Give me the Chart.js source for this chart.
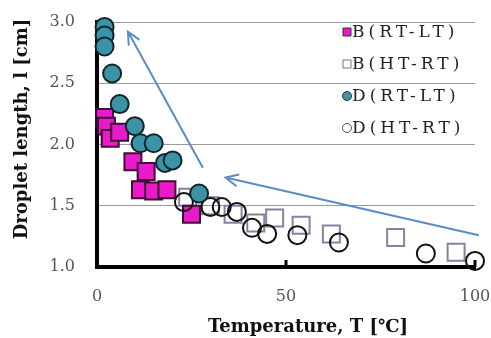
<!DOCTYPE html>
<html>
<head>
<meta charset="utf-8">
<script src="https://cdn.jsdelivr.net/npm/chart.js@4"></script>
<style>
  html, body { margin: 0; padding: 0; background: #fff; }
  #wrap { width: 491px; height: 338px; }
</style>
</head>
<body>
<div id="wrap"><canvas id="chart"></canvas></div>
<script>
// data: [temperature T, droplet length l]
const bRtLt = [[2, 2.22], [2.5, 2.15], [3.5, 2.05], [6, 2.10], [9.5, 1.86], [13, 1.78],
               [11.5, 1.63], [15, 1.62], [18.5, 1.63], [25, 1.43]];
const bHtRt = [[24, 1.57], [30, 1.50], [36, 1.43], [42, 1.36], [47, 1.40], [54, 1.34],
               [62, 1.27], [79, 1.24], [95, 1.12]];
const dRtLt = [[2, 2.96], [2, 2.89], [2, 2.80], [4, 2.58], [6, 2.33], [10, 2.15],
               [11.5, 2.01], [15, 2.01], [18, 1.85], [20, 1.87], [27, 1.60]];
const dHtRt = [[23, 1.53], [30, 1.49], [33, 1.49], [37, 1.45], [41, 1.32], [45, 1.27],
               [53, 1.26], [64, 1.20], [87, 1.11], [100, 1.05]];
const seriesNames = ['B(RT-LT)', 'B(HT-RT)', 'D(RT-LT)', 'D(HT-RT)'];
const xTicks = [0, 50, 100];
const yTicks = [1.0, 1.5, 2.0, 2.5, 3.0];
// arrows: [fromT, fromL, toT, toL]
const arrows = [[28, 1.81, 8.2, 2.92], [101, 1.26, 34, 1.73]];

function pts(arr) {
  return arr.map(p => ({ x: p[0], y: p[1] }));
}

// keep the plot box fixed: no extra room for overhanging tick labels
function noPad(s) {
  s.paddingLeft = 0; s.paddingRight = 0;
  s.paddingTop = 0; s.paddingBottom = 0;
}

// draws legend, arrows, x tick marks and axis titles
const extras = {
  id: 'extras',
  afterDatasetsDraw(chart) {
    const ctx = chart.ctx;
    const xs = chart.scales.x, ys = chart.scales.y;
    ctx.save();

    // small inward tick marks on x axis
    ctx.strokeStyle = '#000';
    ctx.lineWidth = 3;
    xTicks.forEach(v => {
      const px = xs.getPixelForValue(v);
      ctx.beginPath();
      ctx.moveTo(px, ys.bottom);
      ctx.lineTo(px, ys.bottom - 7);
      ctx.stroke();
    });

    // arrows
    ctx.strokeStyle = '#5b8cc4';
    ctx.lineWidth = 2;
    arrows.forEach(a => {
      const x1 = xs.getPixelForValue(a[0]), y1 = ys.getPixelForValue(a[1]);
      const x2 = xs.getPixelForValue(a[2]), y2 = ys.getPixelForValue(a[3]);
      const ang = Math.atan2(y2 - y1, x2 - x1);
      ctx.beginPath();
      ctx.moveTo(x1, y1);
      ctx.lineTo(x2, y2);
      ctx.moveTo(x2 - 14 * Math.cos(ang - 0.45), y2 - 14 * Math.sin(ang - 0.45));
      ctx.lineTo(x2, y2);
      ctx.lineTo(x2 - 14 * Math.cos(ang + 0.45), y2 - 14 * Math.sin(ang + 0.45));
      ctx.stroke();
    });

    // legend
    ctx.font = '17px "DejaVu Serif"';
    ctx.letterSpacing = '4px';
    ctx.textBaseline = 'middle';
    ctx.textAlign = 'left';
    chart.data.datasets.forEach((ds, i) => {
      const y = 32 + i * 32;
      const mx = 347;
      ctx.lineWidth = 1;
      ctx.strokeStyle = ds.legendStroke;
      ctx.fillStyle = ds.backgroundColor;
      ctx.beginPath();
      if (ds.pointStyle === 'rect') {
        ctx.rect(mx - 4, y - 4, 8, 8);
      } else {
        ctx.arc(mx, y, 4.5, 0, Math.PI * 2);
      }
      ctx.fill();
      ctx.stroke();
      ctx.fillStyle = '#222';
      ctx.fillText(ds.label, mx + 5, y + 1);
    });

    // axis titles
    ctx.letterSpacing = '0px';
    ctx.font = 'bold 18px "DejaVu Serif"';
    ctx.fillStyle = '#111';
    ctx.textAlign = 'center';
    ctx.fillText('Temperature, T [\u2103]', 308, 327);
    ctx.translate(22, 129);
    ctx.rotate(-Math.PI / 2);
    ctx.fillText('Droplet length, l [cm]', 0, 0);
    ctx.restore();
  }
};

new Chart(document.getElementById('chart'), {
  type: 'scatter',
  data: {
    datasets: [
      {
        label: seriesNames[0], data: pts(bRtLt), order: 2,
        pointStyle: 'rect', pointRadius: 12, pointHoverRadius: 12,
        backgroundColor: '#ea1acb', borderColor: '#3a1030', borderWidth: 2,
        legendStroke: '#333'
      },
      {
        label: seriesNames[1], data: pts(bHtRt), order: 3,
        pointStyle: 'rect', pointRadius: 12, pointHoverRadius: 12,
        backgroundColor: 'rgba(255,255,255,0)', borderColor: '#8a7fa3', borderWidth: 2,
        legendStroke: '#777'
      },
      {
        label: seriesNames[2], data: pts(dRtLt), order: 0,
        pointStyle: 'circle', pointRadius: 9, pointHoverRadius: 9,
        backgroundColor: '#3b93a6', borderColor: '#13242c', borderWidth: 2,
        legendStroke: '#333'
      },
      {
        label: seriesNames[3], data: pts(dHtRt), order: 1,
        pointStyle: 'circle', pointRadius: 9, pointHoverRadius: 9,
        backgroundColor: 'rgba(255,255,255,0)', borderColor: '#111', borderWidth: 2,
        legendStroke: '#555'
      }
    ]
  },
  options: {
    responsive: true,
    maintainAspectRatio: false,
    animation: false,
    clip: false,
    layout: { padding: { top: 22, right: 16, left: 0, bottom: 0 } },
    plugins: {
      legend: { display: false },
      tooltip: { enabled: false }
    },
    scales: {
      x: {
        type: 'linear', min: 0, max: 100,
        afterBuildTicks: s => { s.ticks = xTicks.map(v => ({ value: v })); },
        afterFit: s => { s.height = 71; noPad(s); },
        grid: { display: false, drawTicks: false },
        border: { color: '#000', width: 4 },
        ticks: { color: '#555', font: { family: 'DejaVu Serif', size: 16 }, padding: 20 }
      },
      y: {
        type: 'linear', min: 1.0, max: 3.0,
        afterBuildTicks: s => { s.ticks = yTicks.map(v => ({ value: v })); },
        afterFit: s => { s.width = 97; noPad(s); },
        grid: {
          drawTicks: false,
          color: c => (c.tick && c.tick.value === 1.0) ? 'rgba(0,0,0,0)' : '#9a9a9a',
          lineWidth: 1
        },
        border: { color: '#000', width: 4 },
        ticks: {
          color: '#555', font: { family: 'DejaVu Serif', size: 16 }, padding: 22,
          callback: v => v.toFixed(1)
        }
      }
    }
  },
  plugins: [extras]
});
</script>
</body>
</html>
